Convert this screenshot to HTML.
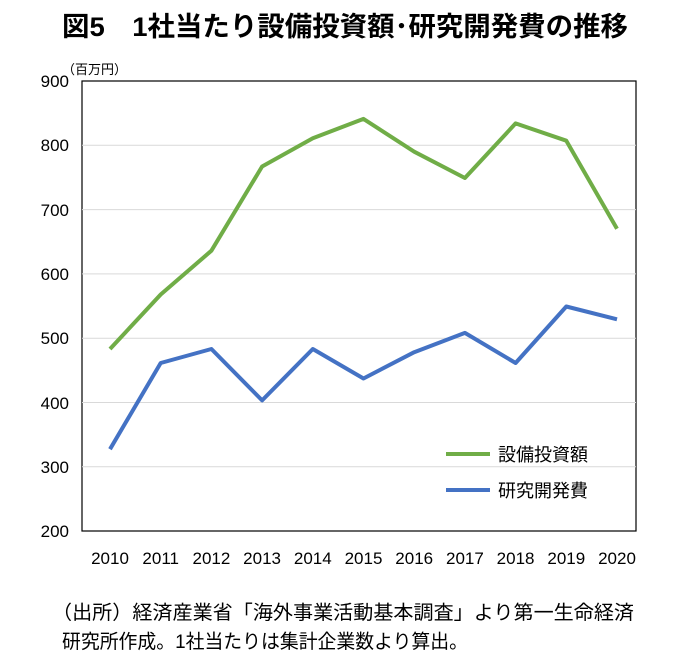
<!DOCTYPE html>
<html><head><meta charset="utf-8"><style>
body{margin:0;background:#fff;width:691px;height:662px;overflow:hidden;font-family:"Liberation Sans","Noto Sans CJK JP",sans-serif;}
</style></head><body>
<svg width="691" height="662" xmlns="http://www.w3.org/2000/svg" font-family="Liberation Sans, Noto Sans CJK JP, sans-serif">
<text x="62" y="36" font-size="27" font-weight="bold" fill="#000" textLength="566" lengthAdjust="spacingAndGlyphs">図5　1社当たり設備投資額･研究開発費の推移</text>
<text x="62" y="74" font-size="13" fill="#000">（百万円）</text>
<rect x="82" y="81" width="554" height="450" fill="none" stroke="#000" stroke-width="1.2"/>
<g stroke="#d9d9d9" stroke-width="1">
<line x1="82" y1="145.3" x2="636" y2="145.3"/>
<line x1="82" y1="209.6" x2="636" y2="209.6"/>
<line x1="82" y1="273.9" x2="636" y2="273.9"/>
<line x1="82" y1="338.2" x2="636" y2="338.2"/>
<line x1="82" y1="402.5" x2="636" y2="402.5"/>
<line x1="82" y1="466.8" x2="636" y2="466.8"/>
</g>
<g font-size="17" fill="#000" text-anchor="end">
<text x="69" y="87">900</text><text x="69" y="151">800</text><text x="69" y="216">700</text>
<text x="69" y="280">600</text><text x="69" y="344">500</text><text x="69" y="409">400</text>
<text x="69" y="473">300</text><text x="69" y="537">200</text>
</g>
<g font-size="17" fill="#000" text-anchor="middle">
<text x="110" y="564">2010</text><text x="160.7" y="564">2011</text><text x="211.4" y="564">2012</text>
<text x="262.1" y="564">2013</text><text x="312.8" y="564">2014</text><text x="363.5" y="564">2015</text>
<text x="414.2" y="564">2016</text><text x="464.9" y="564">2017</text><text x="515.6" y="564">2018</text>
<text x="566.3" y="564">2019</text><text x="617" y="564">2020</text>
</g>
<polyline fill="none" stroke="#70ad47" stroke-width="4" stroke-linejoin="round" points="110,349 160.7,294.5 211.4,250.7 262.1,166.5 312.8,138.2 363.5,118.9 414.2,151.7 464.9,178 515.6,123.4 566.3,140.7 617,228.8"/>
<polyline fill="none" stroke="#4472c4" stroke-width="4" stroke-linejoin="round" points="110,449.2 160.7,363 211.4,349 262.1,400.4 312.8,349 363.5,378.5 414.2,352.2 464.9,332.9 515.6,363 566.3,306.5 617,319.3"/>
<line x1="446" y1="454" x2="490" y2="454" stroke="#70ad47" stroke-width="4"/>
<text x="498" y="461" font-size="18" fill="#000">設備投資額</text>
<line x1="446" y1="490" x2="490" y2="490" stroke="#4472c4" stroke-width="4"/>
<text x="498" y="497" font-size="18" fill="#000">研究開発費</text>
<text x="52" y="619" font-size="19.5" fill="#000" textLength="582" lengthAdjust="spacingAndGlyphs">（出所）経済産業省「海外事業活動基本調査」より第一生命経済</text>
<text x="62" y="648" font-size="19.5" fill="#000" textLength="406" lengthAdjust="spacingAndGlyphs">研究所作成。1社当たりは集計企業数より算出。</text>
</svg>
</body></html>
